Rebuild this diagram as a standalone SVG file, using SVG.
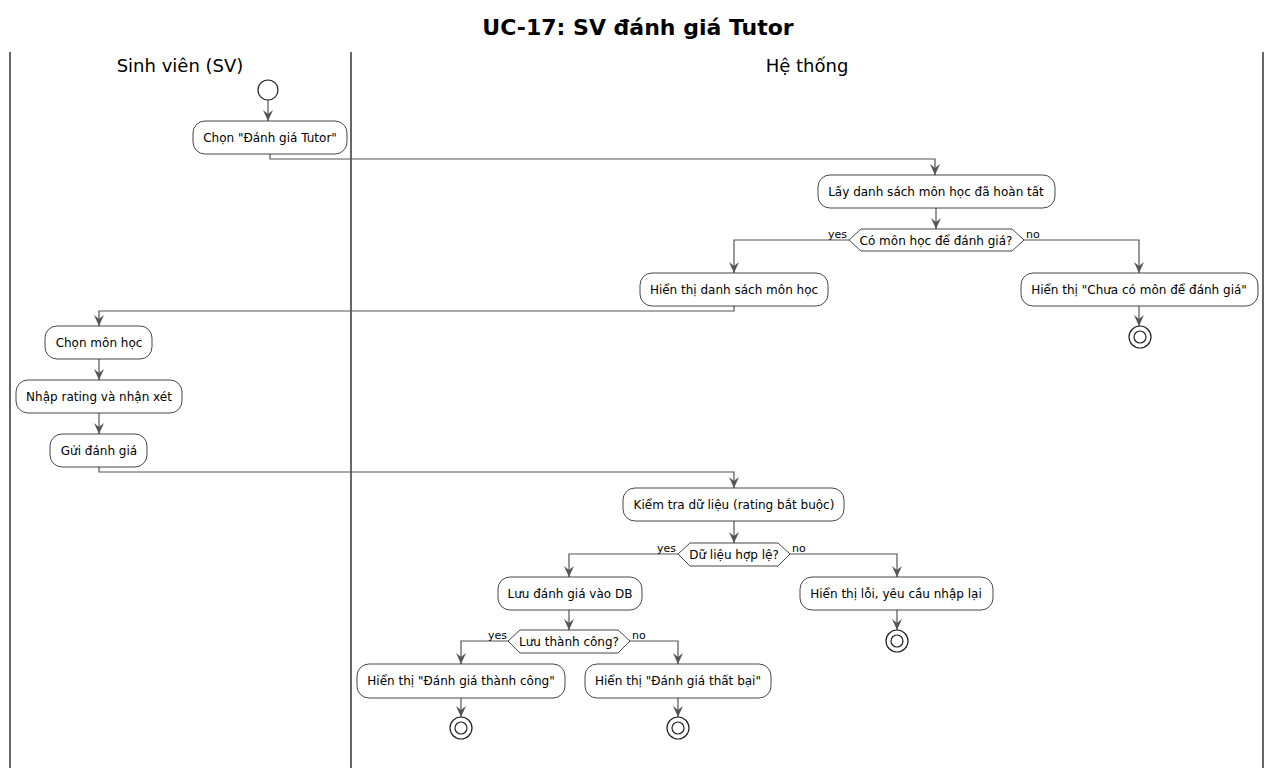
<svg xmlns="http://www.w3.org/2000/svg" width="1276" height="774" viewBox="0 0 1276 774">
<style>
text{font-family:"DejaVu Sans",sans-serif;fill:#000}
.t{font-size:12px;text-anchor:middle}
.lbl{font-size:11px}
.lane{font-size:18px;text-anchor:middle}
.title{font-size:22px;font-weight:bold;text-anchor:middle}
.box{fill:#fff;stroke:#181818;stroke-width:0.8}
.dia{fill:#fff;stroke:#181818;stroke-width:0.8}
.c{fill:none;stroke:#555;stroke-width:1.2;marker-end:url(#ah)}
.sep{stroke:#000;stroke-width:1.2}
.ec{fill:#fff;stroke:#222;stroke-width:1.2}
</style>
<defs>
<marker id="ah" markerWidth="11" markerHeight="10" viewBox="0 0 11 10" refX="11" refY="5" orient="auto" markerUnits="userSpaceOnUse">
<path d="M0,0 L11,5 L0,10 L4,5 z" fill="#555"/>
</marker>
</defs>
<rect width="1276" height="774" fill="#fff"/>
<text class="title" x="638" y="35">UC-17: SV đánh giá Tutor</text>
<g id="lanes">
<line class="sep" x1="10" y1="52" x2="10" y2="768"/>
<line class="sep" x1="351" y1="52" x2="351" y2="768"/>
<line class="sep" x1="1263" y1="52" x2="1263" y2="768"/>
<text class="lane" x="180" y="72">Sinh viên (SV)</text>
<text class="lane" x="807" y="72">Hệ thống</text>
</g>
<g id="connectors">
<path class="c" d="M268,100 V121"/>
<path class="c" d="M270,154 V159 H935 V175"/>
<path class="c" d="M936,208 V229"/>
<path class="c" d="M849,240 H734 V273"/>
<path class="c" d="M1024,240 H1139 V273"/>
<path class="c" d="M1139,306 V326"/>
<path class="c" d="M734,306 V311 H99 V326"/>
<path class="c" d="M99,359 V380"/>
<path class="c" d="M99,413 V434"/>
<path class="c" d="M99,467 V472 H734 V488"/>
<path class="c" d="M734,521 V543"/>
<path class="c" d="M678,554 H569 V577"/>
<path class="c" d="M790,554 H897 V577"/>
<path class="c" d="M897,610 V630"/>
<path class="c" d="M569,610 V630"/>
<path class="c" d="M508,641 H461 V664"/>
<path class="c" d="M630,641 H678 V664"/>
<path class="c" d="M461,698 V717"/>
<path class="c" d="M678,698 V717"/>
<text class="lbl" x="828" y="238">yes</text>
<text class="lbl" x="1026" y="238">no</text>
<text class="lbl" x="657" y="552">yes</text>
<text class="lbl" x="792" y="552">no</text>
<text class="lbl" x="488" y="639">yes</text>
<text class="lbl" x="632" y="639">no</text>
</g>
<g id="start"><circle cx="268" cy="90" r="10" class="ec"/></g>
<g id="n1"><rect class="box" x="193" y="121" width="154" height="33" rx="12"/><text class="t" x="270" y="142">Chọn "Đánh giá Tutor"</text></g>
<g id="n2"><rect class="box" x="818" y="175" width="237" height="33" rx="12"/><text class="t" x="936" y="196">Lấy danh sách môn học đã hoàn tất</text></g>
<g id="d1"><polygon class="dia" points="849,240 861,229 1012,229 1024,240 1012,251 861,251"/><text class="t" x="936" y="245">Có môn học để đánh giá?</text></g>
<g id="n3"><rect class="box" x="640" y="273" width="188" height="33" rx="12"/><text class="t" x="734" y="294">Hiển thị danh sách môn học</text></g>
<g id="n4"><rect class="box" x="1021" y="273" width="237" height="33" rx="12"/><text class="t" x="1139" y="294">Hiển thị "Chưa có môn để đánh giá"</text></g>
<g id="e1"><circle cx="1140" cy="337" r="11" class="ec"/><circle cx="1140" cy="337" r="6" class="ec"/></g>
<g id="n5"><rect class="box" x="45" y="326" width="107" height="33" rx="12"/><text class="t" x="99" y="347">Chọn môn học</text></g>
<g id="n6"><rect class="box" x="16" y="380" width="166" height="33" rx="12"/><text class="t" x="99" y="401">Nhập rating và nhận xét</text></g>
<g id="n7"><rect class="box" x="50" y="434" width="97" height="33" rx="12"/><text class="t" x="99" y="455">Gửi đánh giá</text></g>
<g id="n8"><rect class="box" x="623" y="488" width="221" height="33" rx="12"/><text class="t" x="734" y="509">Kiểm tra dữ liệu (rating bắt buộc)</text></g>
<g id="d2"><polygon class="dia" points="678,554 690,543 778,543 790,554 778,566 690,566"/><text class="t" x="734" y="559">Dữ liệu hợp lệ?</text></g>
<g id="n9"><rect class="box" x="498" y="577" width="144" height="33" rx="12"/><text class="t" x="570" y="598">Lưu đánh giá vào DB</text></g>
<g id="n10"><rect class="box" x="800" y="577" width="193" height="33" rx="12"/><text class="t" x="896" y="598">Hiển thị lỗi, yêu cầu nhập lại</text></g>
<g id="e2"><circle cx="897" cy="641" r="11" class="ec"/><circle cx="897" cy="641" r="6" class="ec"/></g>
<g id="d3"><polygon class="dia" points="508,641 520,630 618,630 630,641 618,653 520,653"/><text class="t" x="569" y="646">Lưu thành công?</text></g>
<g id="n11"><rect class="box" x="357" y="664" width="208" height="34" rx="12"/><text class="t" x="461" y="685">Hiển thị "Đánh giá thành công"</text></g>
<g id="n12"><rect class="box" x="585" y="664" width="186" height="34" rx="12"/><text class="t" x="678" y="685">Hiển thị "Đánh giá thất bại"</text></g>
<g id="e3"><circle cx="461" cy="728" r="11" class="ec"/><circle cx="461" cy="728" r="6" class="ec"/></g>
<g id="e4"><circle cx="678" cy="728" r="11" class="ec"/><circle cx="678" cy="728" r="6" class="ec"/></g>
</svg>
